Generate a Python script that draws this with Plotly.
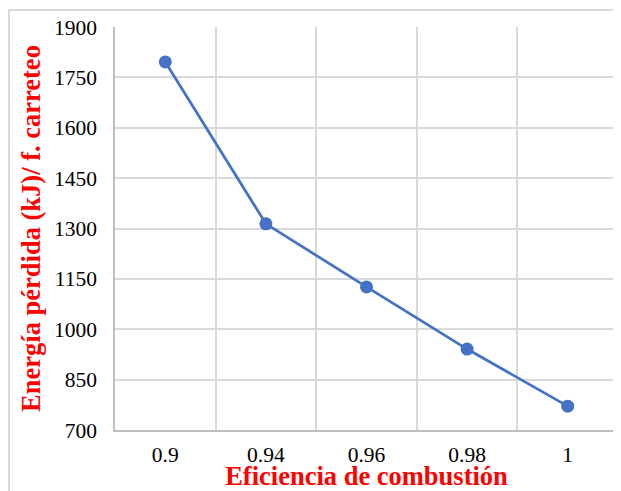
import plotly.graph_objects as go

categories = ["0.9", "0.94", "0.96", "0.98", "1"]
energia = [1796, 1314, 1126, 941, 771]
y_ticks = [700, 850, 1000, 1150, 1300, 1450, 1600, 1750, 1900]

# page has an 8px body margin, so figure coordinates = page coordinates - 8
W, H = 613, 483
L, R, T, B = 107, 3, 19, 61
pw = W - L - R
ph = H - T - B

def px_x(x):
    return (x - L) / pw

def px_y(y):
    return (H - B - y) / ph

fig = go.Figure()
fig.add_trace(go.Scatter(
    x=categories, y=energia, mode="lines+markers",
    line=dict(color="#4472C4", width=2.75),
    marker=dict(color="#4472C4", size=13),
    showlegend=False,
))

font_family = "Liberation Serif"
fig.update_layout(
    width=W, height=H,
    margin=dict(l=L, r=R, t=T, b=B),
    paper_bgcolor="white", plot_bgcolor="white",
    font=dict(family=font_family, size=21.5, color="black"),
    xaxis=dict(
        type="category", range=[-0.5, 4.5], tickson="boundaries",
        showgrid=True, gridcolor="#d9d9d9", gridwidth=1.5,
        showline=True, linecolor="#bfbfbf", linewidth=1.5,
        ticks="", ticklabelstandoff=4,
        tickfont=dict(size=21.5, family=font_family),
        title=dict(text="<b>Eficiencia de combustión</b>",
                   font=dict(size=26.5, color="red", family=font_family),
                   standoff=2),
        zeroline=False, automargin=False,
    ),
    yaxis=dict(
        range=[700, 1900], tickvals=y_ticks,
        showgrid=True, gridcolor="#d9d9d9", gridwidth=1.5,
        showline=True, linecolor="#bfbfbf", linewidth=1.5,
        ticks="", ticklabelstandoff=12,
        tickfont=dict(size=21.5, family=font_family),
        title=dict(text="<b>Energía pérdida (kJ)/ f. carreteo</b>",
                   font=dict(size=26.5, color="red", family=font_family),
                   standoff=6),
        zeroline=False, automargin=False,
    ),
    shapes=[
        dict(type="rect", xref="paper", yref="paper",
             x0=px_x(1), x1=px_x(W + 5), y0=px_y(H + 5), y1=px_y(2),
             line=dict(color="#d9d9d9", width=2), fillcolor="rgba(0,0,0,0)", layer="below"),
        dict(type="line", xref="paper", yref="paper",
             x0=1, x1=1, y0=0, y1=1,
             line=dict(color="#d9d9d9", width=1.5)),
    ],
)

fig.write_html("out.html")
